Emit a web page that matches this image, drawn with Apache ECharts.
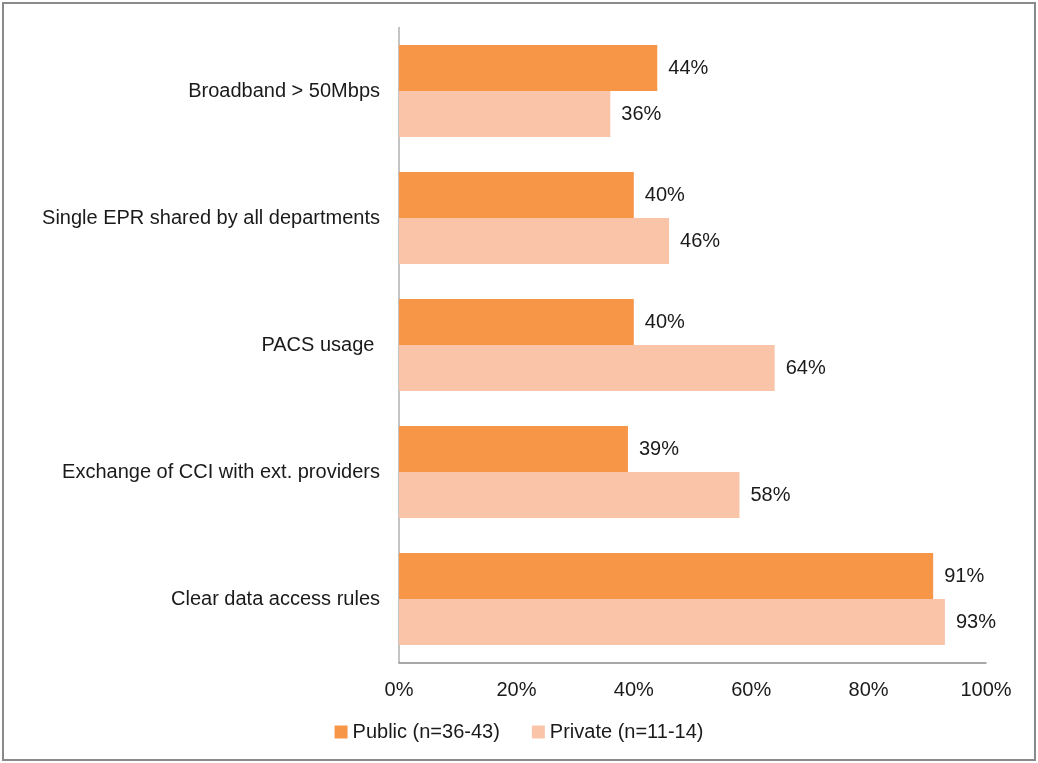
<!DOCTYPE html>
<html>
<head>
<meta charset="utf-8">
<script src="https://cdn.jsdelivr.net/npm/echarts@6/dist/echarts.min.js"></script>
<style>
  html, body { margin: 0; padding: 0; background: #fff; }
  #chart { width: 1038px; height: 763px; }
</style>
</head>
<body>
<div id="chart"></div>
<script>
const categories = [
  'Broadband > 50Mbps',
  'Single EPR shared by all departments',
  'PACS usage ',
  'Exchange of CCI with ext. providers',
  'Clear data access rules'
];
const publicValues = [44, 40, 40, 39, 91];
const privateValues = [36, 46, 64, 58, 93];
const xTicks = [0, 20, 40, 60, 80, 100];

const font = 'Liberation Sans, Arial, sans-serif';
const fs = 20;
const chart = echarts.init(document.getElementById('chart'));

chart.setOption({
  animation: false,
  textStyle: { fontFamily: font },
  graphic: [{
    type: 'rect',
    shape: { x: 3, y: 3, width: 1032, height: 757 },
    style: { fill: 'none', stroke: '#8a8a8a', lineWidth: 2 },
    z: 100
  }],
  grid: { left: 399, right: 52, top: 27.5, height: 635 },
  legend: {
    bottom: 16,
    left: 'center',
    itemWidth: 13,
    itemHeight: 13,
    itemGap: 32,
    icon: 'rect',
    textStyle: { fontSize: fs, color: '#1a1a1a', fontFamily: font },
    data: ['Public (n=36-43)', 'Private (n=11-14)']
  },
  xAxis: {
    type: 'value',
    min: xTicks[0],
    max: xTicks[xTicks.length - 1],
    interval: 20,
    axisLine: { show: true, lineStyle: { color: '#8c8c8c', width: 1.5 } },
    axisTick: { show: false },
    splitLine: { show: false },
    axisLabel: { formatter: '{value}%', fontSize: fs, color: '#1a1a1a', margin: 18 }
  },
  yAxis: {
    type: 'category',
    inverse: true,
    data: categories,
    axisLine: { lineStyle: { color: '#b0b0b0', width: 1.5 } },
    axisTick: { show: false },
    axisLabel: { fontSize: fs, color: '#1a1a1a', margin: 19 }
  },
  series: [
    {
      name: 'Public (n=36-43)',
      type: 'bar',
      data: publicValues,
      barGap: '0%',
      barCategoryGap: '27.6%',
      itemStyle: { color: '#F79646' },
      label: { show: true, position: 'right', distance: 11, formatter: '{c}%', fontSize: fs, color: '#1a1a1a' }
    },
    {
      name: 'Private (n=11-14)',
      type: 'bar',
      data: privateValues,
      barGap: '0%',
      barCategoryGap: '27.6%',
      itemStyle: { color: '#FAC4A9' },
      label: { show: true, position: 'right', distance: 11, formatter: '{c}%', fontSize: fs, color: '#1a1a1a' }
    }
  ]
});
</script>
</body>
</html>
